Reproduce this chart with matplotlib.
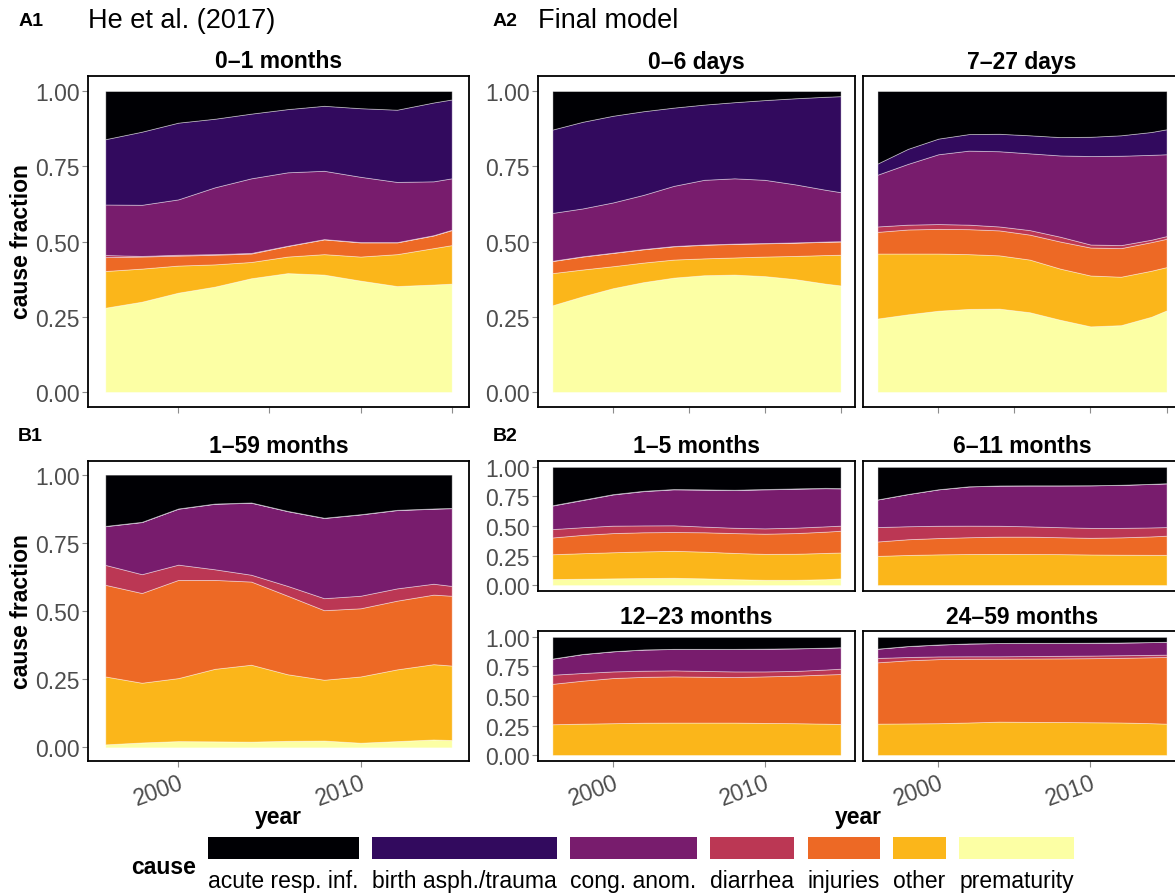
import matplotlib
matplotlib.use("Agg")
import matplotlib.pyplot as plt
from matplotlib.patches import Rectangle

plt.rcParams['font.family'] = ['Liberation Sans', 'DejaVu Sans']

W, H = 1175, 895

YEARS = [1996, 1998, 2000, 2002, 2004, 2006, 2008, 2010, 2012, 2014, 2015]

CAUSES = ["acute resp. inf.", "birth asph./trauma", "cong. anom.", "diarrhea",
          "injuries", "other", "prematurity"]
COLORS = ["#000004", "#320A5E", "#781C6D", "#BB3754", "#ED6925", "#FBB61A", "#FCFFA4"]

# Cause fractions per year; keys follow CAUSES
he_0_1m = {
    "prematurity":        [.280, .300, .330, .350, .378, .395, .390, .370, .352, .357, .360],
    "other":              [.122, .110, .090, .074, .054, .055, .068, .080, .106, .121, .128],
    "injuries":           [.046, .040, .033, .032, .028, .035, .049, .047, .039, .042, .050],
    "diarrhea":           [.007, .002, .003, .002, .002, .001, .001, .001, .001, .001, .001],
    "cong. anom.":        [.168, .170, .184, .222, .248, .244, .227, .217, .200, .179, .171],
    "birth asph./trauma": [.217, .243, .255, .228, .215, .210, .216, .228, .240, .262, .262],
    "acute resp. inf.":   [.160, .135, .105, .092, .075, .060, .049, .057, .062, .038, .028],
}

he_1_59m = {
    "prematurity":        [.011, .018, .023, .022, .021, .024, .025, .017, .023, .029, .027],
    "other":              [.249, .219, .231, .266, .282, .244, .223, .243, .263, .276, .273],
    "injuries":           [.336, .329, .360, .326, .305, .288, .255, .250, .252, .255, .256],
    "diarrhea":           [.073, .069, .056, .039, .025, .036, .044, .046, .045, .040, .036],
    "cong. anom.":        [.142, .191, .205, .240, .264, .274, .294, .298, .287, .275, .285],
    "birth asph./trauma": [.001, .001, .001, .001, .001, .001, .001, .001, .001, .001, .001],
    "acute resp. inf.":   [.188, .173, .124, .106, .102, .133, .158, .145, .129, .124, .122],
}

model_0_6d = {
    "prematurity":        [.288, .318, .345, .365, .380, .388, .390, .385, .375, .360, .354],
    "other":              [.107, .089, .073, .065, .060, .056, .057, .065, .077, .095, .102],
    "injuries":           [.040, .043, .044, .044, .044, .045, .045, .044, .044, .044, .044],
    "diarrhea":           [.001, .001, .001, .001, .001, .001, .001, .001, .001, .001, .001],
    "cong. anom.":        [.159, .159, .167, .180, .200, .215, .217, .210, .193, .172, .163],
    "birth asph./trauma": [.277, .288, .288, .278, .260, .250, .253, .265, .286, .309, .319],
    "acute resp. inf.":   [.128, .102, .082, .067, .055, .045, .037, .030, .024, .019, .017],
}

model_7_27d = {
    "prematurity":        [.244, .258, .270, .276, .277, .265, .240, .218, .222, .250, .271],
    "other":              [.216, .202, .190, .182, .177, .175, .170, .169, .161, .153, .144],
    "injuries":           [.072, .080, .082, .083, .083, .083, .090, .093, .095, .095, .094],
    "diarrhea":           [.018, .016, .016, .015, .013, .015, .016, .010, .010, .008, .009],
    "cong. anom.":        [.172, .202, .232, .246, .250, .255, .270, .294, .297, .282, .272],
    "birth asph./trauma": [.037, .050, .052, .055, .058, .060, .061, .064, .068, .076, .083],
    "acute resp. inf.":   [.241, .192, .158, .143, .142, .147, .153, .152, .147, .136, .127],
}

model_1_5m = {
    "prematurity":        [.051, .054, .057, .060, .062, .057, .050, .045, .045, .050, .057],
    "other":              [.210, .216, .221, .225, .228, .226, .222, .219, .220, .222, .219],
    "injuries":           [.142, .155, .162, .162, .159, .164, .168, .171, .175, .180, .184],
    "diarrhea":           [.071, .065, .063, .058, .057, .048, .045, .045, .046, .045, .043],
    "cong. anom.":        [.199, .230, .264, .290, .304, .312, .319, .330, .329, .323, .315],
    "birth asph./trauma": [.003, .003, .003, .003, .003, .003, .003, .003, .003, .003, .003],
    "acute resp. inf.":   [.324, .277, .230, .202, .187, .190, .193, .187, .182, .177, .179],
}

model_6_11m = {
    "prematurity":        [.001, .001, .001, .001, .001, .001, .001, .001, .001, .001, .001],
    "other":              [.246, .254, .259, .262, .263, .262, .261, .258, .256, .255, .255],
    "injuries":           [.122, .133, .138, .142, .146, .147, .143, .141, .147, .156, .162],
    "diarrhea":           [.122, .110, .104, .098, .092, .087, .085, .084, .080, .076, .073],
    "cong. anom.":        [.233, .272, .308, .332, .340, .346, .353, .360, .364, .368, .370],
    "birth asph./trauma": [.001, .001, .001, .001, .001, .001, .001, .001, .001, .001, .001],
    "acute resp. inf.":   [.275, .229, .189, .164, .157, .156, .156, .155, .151, .143, .138],
}

model_12_23m = {
    "prematurity":        [.001, .001, .001, .001, .001, .001, .001, .001, .001, .001, .001],
    "other":              [.260, .265, .269, .273, .274, .274, .274, .271, .269, .265, .262],
    "injuries":           [.342, .364, .382, .388, .391, .388, .385, .394, .402, .416, .423],
    "diarrhea":           [.077, .065, .056, .052, .051, .049, .048, .042, .040, .042, .045],
    "cong. anom.":        [.136, .160, .170, .179, .181, .186, .190, .192, .191, .184, .181],
    "birth asph./trauma": [.001, .001, .001, .001, .001, .001, .001, .001, .001, .001, .001],
    "acute resp. inf.":   [.183, .144, .121, .106, .101, .101, .101, .099, .096, .091, .087],
}

model_24_59m = {
    "prematurity":        [.001, .001, .001, .001, .001, .001, .001, .001, .001, .001, .001],
    "other":              [.265, .267, .269, .275, .282, .280, .279, .277, .275, .269, .265],
    "injuries":           [.519, .534, .542, .539, .533, .536, .538, .542, .547, .558, .564],
    "diarrhea":           [.037, .028, .023, .021, .020, .021, .022, .022, .022, .020, .020],
    "cong. anom.":        [.078, .092, .100, .108, .112, .111, .109, .108, .107, .108, .108],
    "birth asph./trauma": [.001, .001, .001, .001, .001, .001, .001, .001, .001, .001, .001],
    "acute resp. inf.":   [.099, .077, .064, .055, .051, .050, .050, .049, .047, .043, .041],
}

Y_TICKS = [0.0, 0.25, 0.5, 0.75, 1.0]
Y_TICK_LABELS = ["0.00", "0.25", "0.50", "0.75", "1.00"]

FS = 16.5
GREY = "#4D4D4D"

fig = plt.figure(figsize=(W / 100, H / 100), dpi=100)


def fx(x):
    return x / W


def fy(y):
    return 1 - y / H


def add_panel(x0, y0, x1, y1):
    return fig.add_axes([fx(x0), fy(y1), (x1 - x0) / W, (y1 - y0) / H])


def draw_panel(box, data, title, ylabels=True, xticks=None, xlabels=False):
    ax = add_panel(*box)
    order = CAUSES[::-1]  # stack from prematurity at the bottom up to acute resp. inf.
    cols = COLORS[::-1]
    ax.stackplot(YEARS, *[data[c] for c in order], colors=cols,
                 edgecolor=(1, 1, 1, 0.45), linewidth=0.6)
    ax.set_xlim(1995.05, 2015.95)
    ax.set_ylim(-0.05, 1.05)
    for s in ax.spines.values():
        s.set_color("black")
        s.set_linewidth(1.3)
    ax.set_yticks(Y_TICKS)
    if ylabels:
        ax.set_yticklabels(Y_TICK_LABELS)
        ax.tick_params(axis="y", length=4, width=0.8, color="#8c8c8c",
                       labelcolor=GREY, labelsize=FS, pad=2)
    else:
        ax.tick_params(axis="y", length=0, labelleft=False)
    if xticks:
        ax.set_xticks(xticks)
        if xlabels:
            ax.set_xticklabels([str(t) for t in xticks], rotation=20, ha="right",
                               va="top", rotation_mode="anchor")
        else:
            ax.set_xticklabels([])
        ax.tick_params(axis="x", length=4, width=0.8, color="#8c8c8c",
                       labelcolor=GREY, labelsize=FS, pad=3)
    else:
        ax.set_xticks([])
    cx = (box[0] + min(box[2], W + 6)) / 2
    fig.text(fx(cx), fy(box[1] - 15), title, ha="center", va="center",
             fontsize=FS, fontweight="bold")
    return ax


A_TICKS = [2000, 2005, 2010, 2015]
B_TICKS = [2000, 2010]

# Column 1: He et al. (2017)
draw_panel((88, 77, 469, 408), he_0_1m, "0–1 months", xticks=A_TICKS)
draw_panel((88, 462, 469, 762), he_1_59m, "1–59 months", xticks=B_TICKS, xlabels=True)

# Column 2: final model facets
draw_panel((538, 77, 855, 408), model_0_6d, "0–6 days", xticks=A_TICKS)
draw_panel((863, 77, 1181, 408), model_7_27d, "7–27 days", ylabels=False, xticks=A_TICKS)
draw_panel((538, 462, 855, 592), model_1_5m, "1–5 months")
draw_panel((863, 462, 1181, 592), model_6_11m, "6–11 months", ylabels=False)
draw_panel((538, 632, 855, 762), model_12_23m, "12–23 months", xticks=B_TICKS, xlabels=True)
draw_panel((863, 632, 1181, 762), model_24_59m, "24–59 months", ylabels=False,
           xticks=B_TICKS, xlabels=True)

# Panel tags and headings
fig.text(fx(19), fy(21), "A1", fontsize=14, fontweight="bold", va="center", ha="left")
fig.text(fx(88), fy(21), "He et al. (2017)", fontsize=19.5, va="center", ha="left")
fig.text(fx(493), fy(21), "A2", fontsize=14, fontweight="bold", va="center", ha="left")
fig.text(fx(538), fy(21), "Final model", fontsize=19.5, va="center", ha="left")
fig.text(fx(18), fy(437), "B1", fontsize=14, fontweight="bold", va="center", ha="left")
fig.text(fx(493), fy(437), "B2", fontsize=14, fontweight="bold", va="center", ha="left")

# Axis titles
fig.text(fx(22), fy(242), "cause fraction", rotation=90, fontsize=FS,
         fontweight="bold", ha="center", va="center")
fig.text(fx(22), fy(612), "cause fraction", rotation=90, fontsize=FS,
         fontweight="bold", ha="center", va="center")
fig.text(fx(278), fy(818), "year", fontsize=FS, fontweight="bold", ha="center", va="center")
fig.text(fx(858), fy(818), "year", fontsize=FS, fontweight="bold", ha="center", va="center")

# Legend: keys sized to their labels, labels underneath
fig.text(fx(131), fy(868), "cause", fontsize=FS, fontweight="bold", ha="left", va="center")
fig.canvas.draw()
renderer = fig.canvas.get_renderer()
x = 208
for cause, col in zip(CAUSES, COLORS):
    t = fig.text(fx(x), fy(882), cause, fontsize=FS, ha="left", va="center")
    wpx = t.get_window_extent(renderer).width
    fig.patches.append(Rectangle((fx(x), fy(860)), wpx / W, 22 / H,
                                 transform=fig.transFigure, facecolor=col,
                                 edgecolor="none", figure=fig))
    x += wpx + 13.5

fig.savefig("out.png", dpi=100)
